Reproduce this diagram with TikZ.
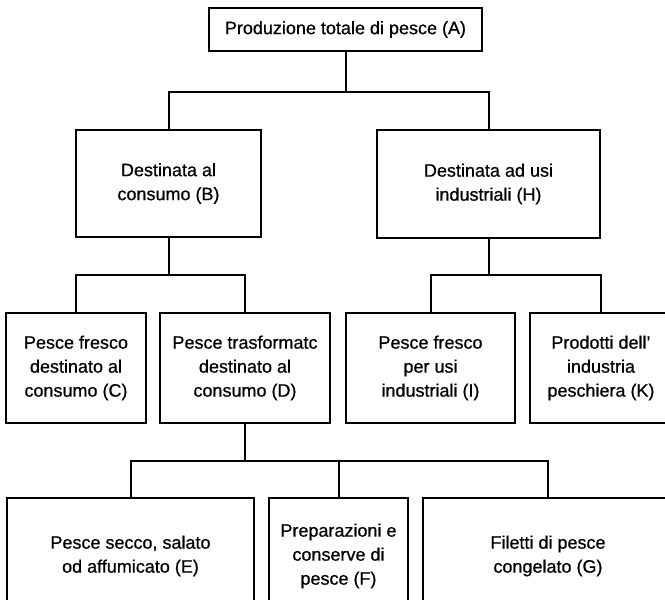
\documentclass[tikz,border=0pt]{standalone}
\usepackage{fontspec}
\setmainfont[FakeBold=0.6]{Liberation Sans}
\begin{document}
\begin{tikzpicture}[x=1pt,y=-1pt,
  box/.style={draw, line width=2pt, align=center, inner sep=0pt, font=\fontsize{18}{24}\selectfont},
  conn/.style={line width=2pt}]
\useasboundingbox (0,0) rectangle (665,600);
\clip (0,0) rectangle (665,600);
\fill[white] (0,0) rectangle (665,600);
% nodes
\node[box, minimum width=273pt, minimum height=43pt] (A) at (345.5,29.5) {Produzione totale di pesce (A)};
\node[box, minimum width=185pt, minimum height=107pt] (B) at (168.5,183.5) {Destinata al\\consumo (B)};
\node[box, minimum width=223pt, minimum height=108pt] (H) at (488.5,184) {Destinata ad usi\\industriali (H)};
\node[box, minimum width=140pt, minimum height=110pt] (C) at (76,368) {Pesce fresco\\destinato al\\consumo (C)};
\node[box, minimum width=170pt, minimum height=110pt] (D) at (245,368) {Pesce trasformatc\\destinato al\\consumo (D)};
\node[box, minimum width=169pt, minimum height=110pt] (I) at (430.5,368) {Pesce fresco\\per usi\\industriali (I)};
\node[box, minimum width=142pt, minimum height=110pt] (K) at (601,368) {Prodotti dell’\\industria\\peschiera (K)};
\node[box, minimum width=247pt, minimum height=116pt] (E) at (130.5,556) {Pesce secco, salato\\od affumicato (E)};
\node[box, minimum width=139pt, minimum height=116pt] (F) at (338.5,556) {Preparazioni e\\conserve di\\pesce (F)};
\node[box, minimum width=250pt, minimum height=116pt] (G) at (548,556) {Filetti di pesce\\congelato (G)};
% bus points
\coordinate (bA) at (345.5,92);
\coordinate (bB) at (170,275);
\coordinate (bH) at (490,275);
\coordinate (bD) at (244,461);
% connectors
\draw[conn] (A.south) -- (bA);
\draw[conn] (B.north) |- (bA) -| (H.north);
\draw[conn] (B.south) -- (B.south |- bB);
\draw[conn] (C.north) |- (bB) -| (D.north);
\draw[conn] (H.south) -- (H.south |- bH);
\draw[conn] (I.north) |- (bH) -| (K.north);
\draw[conn] (D.south) -- (D.south |- bD);
\draw[conn] (E.north) |- (bD) -| (G.north);
\draw[conn] (F.north) -- (F.north |- bD);
\end{tikzpicture}
\end{document}
